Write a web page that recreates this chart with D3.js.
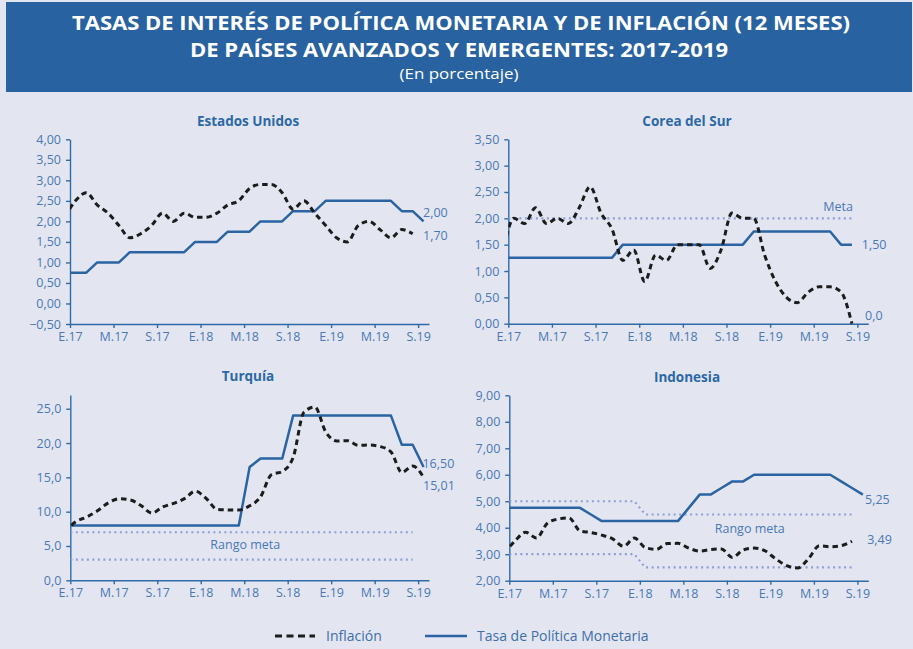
<!DOCTYPE html>
<html lang="es">
<head>
<meta charset="UTF-8">
<title>Tasas de interés de política monetaria y de inflación 2017-2019</title>
<script src="https://d3js.org/d3.v7.min.js"></script>
<style>
  body { margin: 0; background: #e3e6f1; }
  svg { display: block; font-family: "Open Sans", sans-serif; }
  .axis path, .axis line { stroke: #2f6aa8; stroke-width: 1.4; }
  .axis text { fill: #4a78b4; font-size: 12.5px; font-family: "Open Sans", sans-serif; }
</style>
</head>
<body>
<script>
// series mensuales: el primer valor corresponde a dic-2016 (queda recortado por el eje)
const ticksMeses = ["E.17", "M.17", "S.17", "E.18", "M.18", "S.18", "E.19", "M.19", "S.19"];

const usaInflacion = [2.1, 2.5, 2.7, 2.4, 2.2, 1.9, 1.6, 1.7, 1.9, 2.2, 2.0, 2.2, 2.1,
  2.1, 2.2, 2.4, 2.5, 2.8, 2.9, 2.9, 2.7, 2.3, 2.5, 2.2, 1.9,
  1.6, 1.5, 1.9, 2.0, 1.8, 1.6, 1.8, 1.7];
const usaTasa = [0.75, 0.75, 0.75, 1.00, 1.00, 1.00, 1.25, 1.25, 1.25, 1.25, 1.25, 1.25, 1.50,
  1.50, 1.50, 1.75, 1.75, 1.75, 2.00, 2.00, 2.00, 2.25, 2.25, 2.25, 2.50,
  2.50, 2.50, 2.50, 2.50, 2.50, 2.50, 2.25, 2.25, 2.00];

const coreaInflacion = [1.3, 2.0, 1.9, 2.2, 1.9, 2.0, 1.9, 2.2, 2.6, 2.1, 1.8, 1.2, 1.4,
  0.8, 1.3, 1.2, 1.5, 1.5, 1.5, 1.05, 1.4, 2.1, 2.0, 2.0, 1.3,
  0.8, 0.5, 0.4, 0.6, 0.7, 0.7, 0.6, 0.0];
const coreaTasa = [1.25, 1.25, 1.25, 1.25, 1.25, 1.25, 1.25, 1.25, 1.25, 1.25, 1.25, 1.50, 1.50,
  1.50, 1.50, 1.50, 1.50, 1.50, 1.50, 1.50, 1.50, 1.50, 1.50, 1.75, 1.75,
  1.75, 1.75, 1.75, 1.75, 1.75, 1.75, 1.50, 1.50];

const turquiaInflacion = [7.0, 8.53, 9.22, 10.13, 11.29, 11.87, 11.72, 10.90, 9.79, 10.68, 11.20, 11.90, 12.98,
  11.92, 10.35, 10.26, 10.23, 10.85, 12.15, 15.39, 15.85, 17.90, 24.52, 25.24, 21.62,
  20.30, 20.35, 19.67, 19.71, 19.50, 18.71, 15.72, 16.65, 15.01];
const turquiaTasa = [8.0, 8.0, 8.0, 8.0, 8.0, 8.0, 8.0, 8.0, 8.0, 8.0, 8.0, 8.0, 8.0,
  8.0, 8.0, 8.0, 8.0, 16.5, 17.75, 17.75, 17.75, 24.0, 24.0, 24.0, 24.0,
  24.0, 24.0, 24.0, 24.0, 24.0, 24.0, 19.75, 19.75, 16.5];

const indoInflacion = [3.02, 3.49, 3.83, 3.61, 4.17, 4.33, 4.37, 3.88, 3.82, 3.72, 3.58, 3.30, 3.61,
  3.25, 3.18, 3.40, 3.41, 3.23, 3.12, 3.18, 3.20, 2.88, 3.16, 3.23, 3.13,
  2.82, 2.57, 2.48, 2.83, 3.32, 3.28, 3.32, 3.49];
const indoTasa = [4.75, 4.75, 4.75, 4.75, 4.75, 4.75, 4.75, 4.75, 4.50, 4.25, 4.25, 4.25, 4.25,
  4.25, 4.25, 4.25, 4.25, 4.75, 5.25, 5.25, 5.50, 5.75, 5.75, 6.00, 6.00,
  6.00, 6.00, 6.00, 6.00, 6.00, 6.00, 5.75, 5.50, 5.25];

// metas: [mes (0 = ene-2017), valor]
const coreaMeta = [[-1, 2.0], [31, 2.0]];
const turquiaMetaSup = [[-1, 7.0], [31, 7.0]];
const turquiaMetaInf = [[-1, 3.0], [31, 3.0]];
const indoMetaSup = [[-1, 5.0], [11, 5.0], [12, 4.5], [31, 4.5]];
const indoMetaInf = [[-1, 3.0], [11, 3.0], [12, 2.5], [31, 2.5]];

const width = 913, height = 649;
const azul = "#2a64a2", azulTexto = "#4a78b4", azulMeta = "#8c9fd6";

const es = d3.formatLocale({ decimal: ",", thousands: ".", grouping: [3], currency: ["", ""] });

const svg = d3.select("body").append("svg")
  .attr("width", width)
  .attr("height", height);

svg.append("rect").attr("width", width).attr("height", height).attr("fill", "#e3e6f1");

// encabezado
svg.append("rect")
  .attr("x", 6).attr("y", 2)
  .attr("width", 906).attr("height", 90)
  .attr("fill", "#2862a0");

svg.append("text")
  .attr("x", 461).attr("y", 30)
  .attr("text-anchor", "middle")
  .attr("fill", "#fff").attr("font-weight", 700).attr("font-size", 19)
  .attr("textLength", 778).attr("lengthAdjust", "spacingAndGlyphs")
  .text("TASAS DE INTERÉS DE POLÍTICA MONETARIA Y DE INFLACIÓN (12 MESES)");

svg.append("text")
  .attr("x", 459).attr("y", 56.5)
  .attr("text-anchor", "middle")
  .attr("fill", "#fff").attr("font-weight", 700).attr("font-size", 19)
  .attr("textLength", 538).attr("lengthAdjust", "spacingAndGlyphs")
  .text("DE PAÍSES AVANZADOS Y EMERGENTES: 2017-2019");

svg.append("text")
  .attr("x", 459).attr("y", 79)
  .attr("text-anchor", "middle")
  .attr("fill", "#fff").attr("font-size", 15)
  .attr("textLength", 119).attr("lengthAdjust", "spacingAndGlyphs")
  .text("(En porcentaje)");

function panel(p) {
  const x = d3.scaleLinear().domain([0, 33]).range([p.left, p.right]);
  const y = d3.scaleLinear().domain(p.dominio).range([p.bottom, p.top]);
  const g = svg.append("g");

  g.append("text")
    .attr("x", p.tituloX).attr("y", p.tituloY)
    .attr("text-anchor", "middle")
    .attr("fill", "#2c68a6").attr("font-weight", 700).attr("font-size", 13.5)
    .text(p.titulo);

  svg.append("clipPath").attr("id", "clip" + p.id)
    .append("rect")
    .attr("x", x(0)).attr("y", p.top - 10)
    .attr("width", x(33) - x(0)).attr("height", p.bottom - p.top + 20);

  g.append("g")
    .attr("class", "axis")
    .attr("transform", `translate(${x(0)},0)`)
    .call(d3.axisLeft(y).tickValues(p.ticks).tickFormat(es.format(p.fmt)).tickSize(4).tickSizeOuter(0).tickPadding(5));

  g.append("g")
    .attr("class", "axis")
    .attr("transform", `translate(0,${p.bottom})`)
    .call(d3.axisBottom(x).tickValues(d3.range(0, 33, 4)).tickFormat((d, i) => ticksMeses[i]).tickSize(4).tickSizeOuter(0).tickPadding(4));

  const plot = g.append("g").attr("clip-path", `url(#clip${p.id})`);

  const metaLine = d3.line().x(d => x(d[0] + 0.5)).y(d => y(d[1]));
  p.metas.forEach(m => {
    plot.append("path")
      .attr("d", metaLine(m))
      .attr("fill", "none")
      .attr("stroke", azulMeta)
      .attr("stroke-width", 2.2)
      .attr("stroke-dasharray", "2,3.5");
  });

  const serie = d3.line().x((d, i) => x(i - 0.5)).y(d => y(d));

  plot.append("path")
    .attr("d", serie(p.tasa))
    .attr("fill", "none")
    .attr("stroke", azul)
    .attr("stroke-width", 2.5)
    .attr("stroke-linejoin", "round");

  plot.append("path")
    .attr("d", serie.curve(d3.curveMonotoneX)(p.inflacion))
    .attr("fill", "none")
    .attr("stroke", "#1c1c1c")
    .attr("stroke-width", 3)
    .attr("stroke-dasharray", "5.5,4");

  p.etiquetas.forEach(e => {
    g.append("text")
      .attr("x", x(e.m)).attr("y", y(e.v))
      .attr("dy", "0.35em")
      .attr("text-anchor", e.anchor || "start")
      .attr("fill", azulTexto).attr("font-size", 12.5)
      .text(e.t);
  });
}

panel({
  id: 1, titulo: "Estados Unidos", tituloX: 248, tituloY: 125.5,
  left: 70, right: 429, top: 139.3, bottom: 324,
  dominio: [-0.5, 4], ticks: d3.range(-0.5, 4.01, 0.5), fmt: ".2f",
  inflacion: usaInflacion, tasa: usaTasa, metas: [],
  etiquetas: [{ t: "2,00", m: 32.45, v: 2.22 }, { t: "1,70", m: 32.45, v: 1.66 }]
});

panel({
  id: 2, titulo: "Corea del Sur", tituloX: 687, tituloY: 125.5,
  left: 508.3, right: 868.3, top: 139.3, bottom: 323.7,
  dominio: [0, 3.5], ticks: d3.range(0, 3.51, 0.5), fmt: ".2f",
  inflacion: coreaInflacion, tasa: coreaTasa, metas: [coreaMeta],
  etiquetas: [{ t: "Meta", m: 31.6, v: 2.23, anchor: "end" },
    { t: "1,50", m: 32.4, v: 1.51 }, { t: "0,0", m: 32.7, v: 0.16 }]
});

panel({
  id: 3, titulo: "Turquía", tituloX: 248, tituloY: 381,
  left: 70.3, right: 429, top: 395, bottom: 580.3,
  dominio: [0, 27], ticks: d3.range(0, 25.1, 5), fmt: ".1f",
  inflacion: turquiaInflacion, tasa: turquiaTasa, metas: [turquiaMetaSup, turquiaMetaInf],
  etiquetas: [{ t: "Rango meta", m: 16.1, v: 5.24, anchor: "middle" },
    { t: "16,50", m: 32.4, v: 17.05 }, { t: "15,01", m: 32.45, v: 13.78 }]
});

panel({
  id: 4, titulo: "Indonesia", tituloX: 687, tituloY: 381.5,
  left: 509.3, right: 868.3, top: 395.3, bottom: 580.7,
  dominio: [2, 9], ticks: d3.range(2, 9.01, 1), fmt: ".2f",
  inflacion: indoInflacion, tasa: indoTasa, metas: [indoMetaSup, indoMetaInf],
  etiquetas: [{ t: "Rango meta", m: 22.1, v: 3.95, anchor: "middle" },
    { t: "5,25", m: 32.7, v: 5.07 }, { t: "3,49", m: 32.9, v: 3.56 }]
});

// leyenda
const ley = svg.append("g").attr("transform", "translate(0,636)");
ley.append("line").attr("x1", 275).attr("x2", 315)
  .attr("stroke", "#1c1c1c").attr("stroke-width", 3).attr("stroke-dasharray", "7,4.5");
ley.append("text").attr("x", 326).attr("dy", "0.35em")
  .attr("fill", "#3d6fa8").attr("font-size", 14).text("Inflación");
ley.append("line").attr("x1", 425).attr("x2", 467)
  .attr("stroke", azul).attr("stroke-width", 2.5);
ley.append("text").attr("x", 477).attr("dy", "0.35em")
  .attr("fill", "#3d6fa8").attr("font-size", 14).text("Tasa de Política Monetaria");
</script>
</body>
</html>
